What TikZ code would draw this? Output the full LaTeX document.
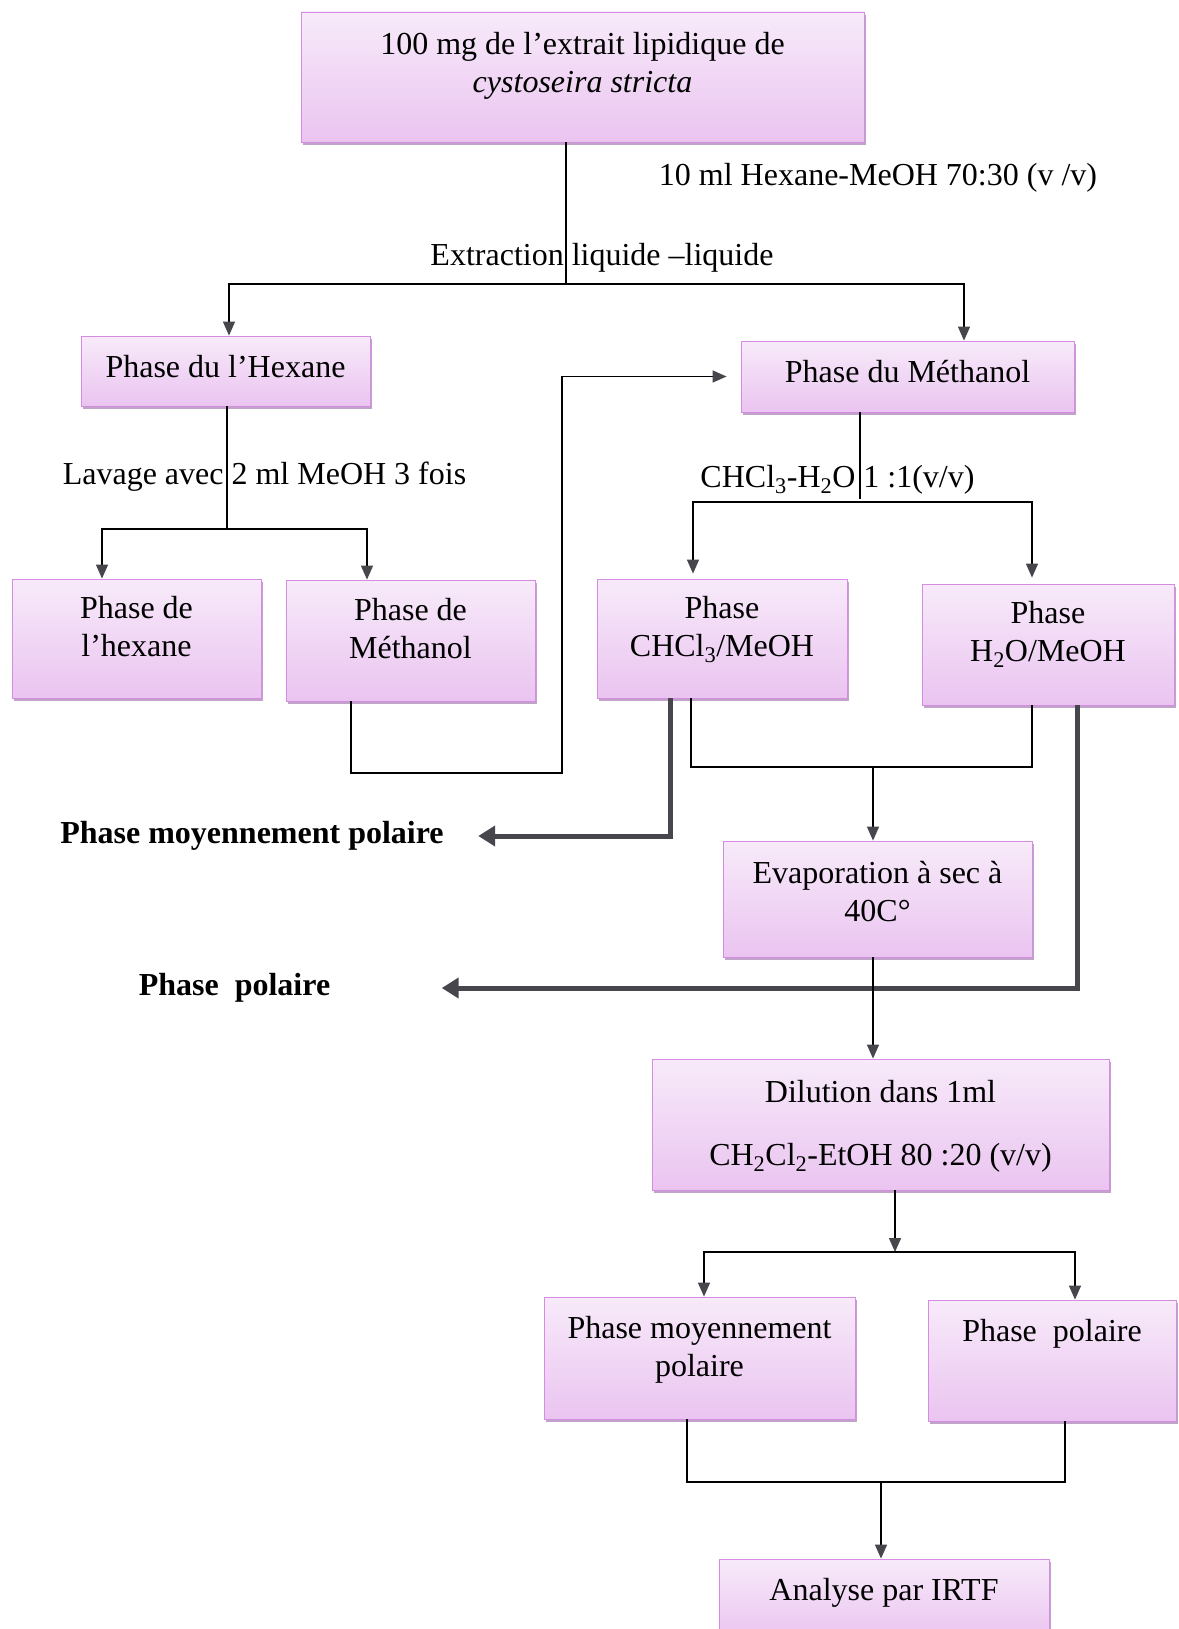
\documentclass[tikz,border=0pt]{standalone}
\usepackage{fontspec}
\setmainfont{Liberation Serif}
\usetikzlibrary{arrows.meta, positioning, shadows}

\definecolor{boxpink}{RGB}{234,196,240}
\definecolor{boxedge}{RGB}{214,140,226}
\definecolor{boxshadow}{RGB}{165,125,175}
\definecolor{tipgray}{RGB}{70,70,76}

\begin{document}
\begin{tikzpicture}[
    x=1pt, y=-1pt,
    every node/.style={font=\fontsize{32}{38}\selectfont},
    phase/.style={rectangle, draw=boxedge, line width=0.8pt, align=center,
      top color=boxpink!35, bottom color=boxpink, inner sep=0pt,
      drop shadow={shadow xshift=2pt, shadow yshift=-3pt, fill=boxshadow, opacity=0.7}},
    lift/.style={text depth=#1},
    flow/.style={line width=1.4pt, -{Triangle[width=12pt, length=14pt, color=tipgray]}},
    link/.style={line width=1.4pt},
    bigflow/.style={line width=5pt, draw=tipgray, -{Triangle[width=20pt, length=17pt]}},
    lbl/.style={font=\fontsize{32}{38}\selectfont\bfseries}
  ]
    \useasboundingbox (0,0) rectangle (1178,1629);

    % Starting extract
    \node[phase, minimum width=563, minimum height=130, lift=30pt] (src) at (582.5,77)
      {100 mg de l’extrait lipidique de\\ \textit{cystoseira stricta}};
    \node (solv) at (878,178) {10 ml Hexane-MeOH 70:30 (v /v)};
    \node (extr) at (602,258) {Extraction liquide –liquide};

    % First split
    \node[phase, minimum width=289, minimum height=70, lift=10pt] (hex) at (225.5,371) {Phase du l’Hexane};
    \node[phase, minimum width=333, minimum height=71, lift=11pt] (meth) at (907.5,376.5) {Phase du Méthanol};

    \coordinate (j1) at (566,284);
    \draw[link] (src.south -| j1) -- (j1);
    \draw[flow] (j1) -| ([xshift=3.5pt]hex.north);
    \draw[flow] (j1) -| ([xshift=56.5pt]meth.north);

    % Hexane washing
    \node (wash) at (264.5,477) {Lavage avec 2 ml MeOH 3 fois};
    \node[phase, minimum width=249, minimum height=119, lift=24pt] (hexb) at (136.5,638.5) {Phase de\\ l’hexane};
    \node[phase, minimum width=249, minimum height=121, lift=24pt] (methb) at (410.5,640.5) {Phase de\\ Méthanol};

    \coordinate (j2) at (227,529);
    \draw[link] (hex.south -| j2) -- (j2);
    \draw[flow] (j2) -| ([xshift=-34.5pt]hexb.north);
    \draw[flow] (j2) -| ([xshift=-43.5pt]methb.north);

    % Methanol back to methanol phase
    \coordinate (j3) at (562,773);
    \draw[flow] ([xshift=-59.5pt]methb.south) |- (j3) |- ([xshift=-14pt]meth.west);

    % Methanol partition
    \node (part) at (837.5,480) {CHCl\textsubscript{3}-H\textsubscript{2}O 1 :1(v/v)};
    \node[phase, minimum width=250, minimum height=119, lift=24pt] (chcl) at (722,638.5) {Phase\\ CHCl\textsubscript{3}/MeOH};
    \node[phase, minimum width=252, minimum height=121, lift=26pt] (water) at (1048,644.5) {Phase\\ H\textsubscript{2}O/MeOH};

    \coordinate (j4) at (860,502);
    \draw[link] ([xshift=-47.5pt]meth.south) -- ([yshift=3pt]j4);
    \draw[flow, shorten >=5pt] (j4) -| ([xshift=-29pt]chcl.north);
    \draw[flow, shorten >=6pt] (j4) -| ([xshift=-16pt]water.north);

    % Side outputs
    \node[lbl] (outmp) at (252,836) {Phase moyennement polaire};
    \node[lbl] (outp) at (234.5,988) {Phase\ \ polaire};
    \draw[bigflow] ([xshift=-52pt]chcl.south) |- ([xshift=31pt]outmp.east);
    \draw[bigflow] ([xshift=29pt]water.south) |- ([xshift=108pt]outp.east);

    % Evaporation
    \node[phase, minimum width=309, minimum height=116, lift=16pt] (evap) at (877.5,899) {Evaporation à sec à\\ 40C°};
    \coordinate (j5) at (873,767);
    \draw[link] ([xshift=-31pt]chcl.south) |- (j5) -| ([xshift=-16pt]water.south);
    \draw[flow] (j5) -- (j5 |- evap.north);

    % Dilution
    \node[phase, minimum width=457, minimum height=131, lift=3pt] (dil) at (880.5,1124.5)
      {Dilution dans 1ml\\[25pt] CH\textsubscript{2}Cl\textsubscript{2}-EtOH 80 :20 (v/v)};
    \draw[flow] ([xshift=-4.5pt]evap.south) -- ([xshift=-7.5pt]dil.north);

    % Final split
    \node[phase, minimum width=311, minimum height=122, lift=24pt] (fmp) at (699.5,1358) {Phase moyennement\\ polaire};
    \node[phase, minimum width=248, minimum height=121, lift=60pt] (fp) at (1052,1360.5) {Phase\ \ polaire};

    \coordinate (j6) at (895,1252);
    \draw[flow] ([xshift=14.5pt]dil.south) -- (j6);
    \draw[flow] (j6) -| ([xshift=4.5pt]fmp.north);
    \draw[flow] (j6) -| ([xshift=23pt]fp.north);

    % Analysis
    \node[phase, minimum width=330, minimum height=81, lift=20pt] (irtf) at (884,1599.5) {Analyse par IRTF};
    \coordinate (j7) at (881,1482);
    \draw[link] ([xshift=-12.5pt]fmp.south) |- (j7) -| ([xshift=13pt]fp.south);
    \draw[flow] (j7) -- (j7 |- irtf.north);
\end{tikzpicture}
\end{document}
